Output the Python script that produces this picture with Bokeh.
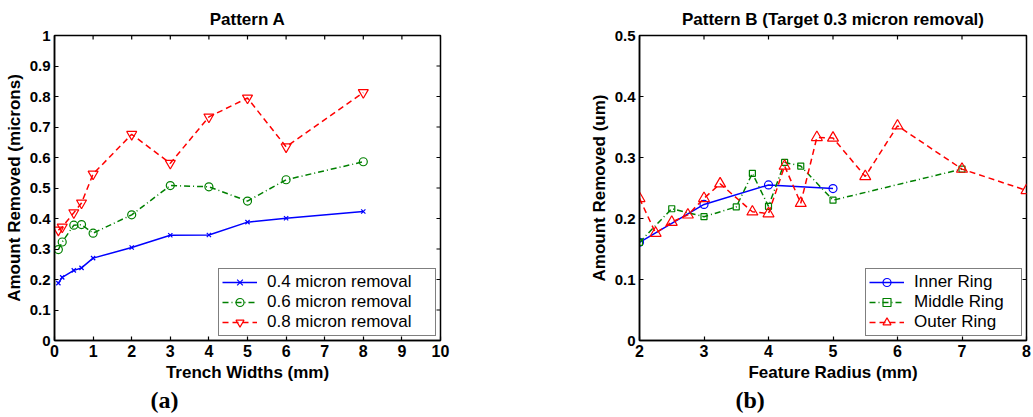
import math
from bokeh.plotting import figure
from bokeh.models import (Range1d, LinearAxis, FixedTicker, CustomJSTickFormatter,
                          Legend, LegendItem, Title)
from bokeh.layouts import row
from bokeh.embed import file_html
from bokeh.resources import INLINE

# ---------------- data ----------------
a_x = [0.1, 0.2, 0.5, 0.7, 1, 2, 3, 4, 5, 6, 8]
a_04 = [0.188, 0.207, 0.230, 0.238, 0.270, 0.305, 0.345, 0.346, 0.388, 0.401, 0.423]
a_06 = [0.298, 0.323, 0.378, 0.380, 0.352, 0.412, 0.508, 0.504, 0.457, 0.527, 0.586]
a_08 = [0.362, 0.372, 0.419, 0.451, 0.546, 0.676, 0.581, 0.733, 0.795, 0.635, 0.813]
a_labels = ["0.4 micron removal", "0.6 micron removal", "0.8 micron removal"]
a_xticks = [0, 1, 2, 3, 4, 5, 6, 7, 8, 9, 10]
a_yticks = [0, 0.1, 0.2, 0.3, 0.4, 0.5, 0.6, 0.7, 0.8, 0.9, 1.0]

b_inner_x = [2, 3, 4, 5]
b_inner = [0.161, 0.223, 0.255, 0.249]
b_mid_x = [2, 2.5, 3, 3.5, 3.75, 4, 4.25, 4.5, 5, 7]
b_mid = [0.161, 0.216, 0.203, 0.219, 0.274, 0.220, 0.292, 0.286, 0.230, 0.281]
b_out_x = [2, 2.25, 2.5, 2.75, 3, 3.25, 3.75, 4, 4.25, 4.5, 4.75, 5, 5.5, 6, 7, 8]
b_out = [0.233, 0.176, 0.194, 0.206, 0.233, 0.257, 0.211, 0.208, 0.286, 0.225,
         0.333, 0.332, 0.269, 0.352, 0.281, 0.246]
b_labels = ["Inner Ring", "Middle Ring", "Outer Ring"]
b_xticks = [2, 3, 4, 5, 6, 7, 8]
b_yticks = [0, 0.1, 0.2, 0.3, 0.4, 0.5]

BLUE, GREEN, RED = "#0000ff", "#008000", "#ff0000"
SANS = "Liberation Sans"
FMT = "return Number(tick.toFixed(2)).toString();"


def make_fig(title, xr, yr, xticks, yticks, xlabel, ylabel, width, left_border, right_border,
             panel_label):
    p = figure(width=width, height=417, output_backend="svg", toolbar_location=None,
               x_range=Range1d(*xr), y_range=Range1d(*yr), x_axis_type=None, y_axis_type=None,
               min_border_left=left_border, min_border_right=right_border,
               min_border_top=35, min_border_bottom=77)
    p.xgrid.visible = False
    p.ygrid.visible = False
    p.outline_line_color = "black"
    p.outline_line_width = 1.5
    p.background_fill_color = "white"
    p.border_fill_color = "white"

    p.title.text = title
    p.title.align = "center"
    p.title.text_font = SANS
    p.title.text_font_size = "17px"
    p.title.text_font_style = "bold"
    p.title.text_color = "black"
    p.title.standoff = 14

    for loc, tk, lab in (("below", xticks, xlabel), ("left", yticks, ylabel)):
        ax = LinearAxis(ticker=FixedTicker(ticks=tk), formatter=CustomJSTickFormatter(code=FMT))
        ax.major_tick_in = 4
        ax.major_tick_out = 0
        ax.minor_tick_in = 0
        ax.minor_tick_out = 0
        ax.axis_line_color = "black"
        ax.axis_line_width = 1.5
        ax.major_tick_line_width = 1.2
        ax.major_label_text_font = SANS
        ax.major_label_text_font_style = "bold"
        ax.major_label_text_font_size = "16px" if loc == "below" else "15px"
        ax.major_label_text_color = "black"
        ax.major_label_standoff = 4
        ax.axis_label = lab
        ax.axis_label_text_font = SANS
        ax.axis_label_text_font_style = "bold"
        ax.axis_label_text_font_size = "17px"
        ax.axis_label_text_color = "black"
        ax.axis_label_standoff = 3
        p.add_layout(ax, loc)

    # inward tick marks on the top and right edges (clipped to the frame)
    p.scatter(xticks, [yr[1]] * len(xticks), marker="dash", angle=math.pi / 2, size=8,
              line_color="black", line_width=1.2)
    p.scatter([xr[1]] * len(yticks), yticks, marker="dash", angle=0, size=8,
              line_color="black", line_width=1.2)

    t = Title(text=panel_label, align="left", offset=96, text_font="Liberation Serif",
              text_font_size="24px", text_font_style="bold", text_color="black", standoff=0)
    p.add_layout(t, "below")
    return p


def add_series(p, x, y, color, dash, marker, size):
    ln = p.line(x, y, line_color=color, line_width=1.5, line_dash=dash)
    sc = p.scatter(x, y, marker=marker, size=size, line_color=color, line_width=1.2,
                   fill_color=None)
    return [ln, sc]


def add_legend(p, items, label_width):
    lg = Legend(items=items, location="bottom_right")
    lg.margin = 4
    lg.padding = 3
    lg.spacing = 0
    lg.glyph_width = 35
    lg.glyph_height = 20
    lg.label_height = 20
    lg.label_width = label_width
    lg.label_standoff = 10
    lg.label_text_font = SANS
    lg.label_text_font_size = "17px"
    lg.label_text_color = "black"
    lg.border_line_color = "black"
    lg.border_line_width = 1.5
    lg.background_fill_color = "white"
    lg.background_fill_alpha = 1.0
    p.add_layout(lg)


# ---------------- Pattern A ----------------
pa = make_fig("Pattern A", (0, 10), (0, 1), a_xticks, a_yticks,
              "Trench Widths (mm)", "Amount Removed (microns)", 508, 54, 68, "(a)")
r1 = add_series(pa, a_x, a_04, BLUE, "solid", "x", 6)
r2 = add_series(pa, a_x, a_06, GREEN, "6 3 1 3", "circle", 8)
r3 = add_series(pa, a_x, a_08, RED, "6 4", "inverted_triangle", 10)
add_legend(pa, [LegendItem(label=a_labels[0], renderers=r1),
                LegendItem(label=a_labels[1], renderers=r2),
                LegendItem(label=a_labels[2], renderers=r3)], 165)

# ---------------- Pattern B ----------------
pb = make_fig("Pattern B (Target 0.3 micron removal)", (2, 8), (0, 0.5), b_xticks, b_yticks,
              "Feature Radius (mm)", "Amount Removed (um)", 525, 131, 7, "(b)")
s1 = add_series(pb, b_inner_x, b_inner, BLUE, "solid", "circle", 8)
s2 = add_series(pb, b_mid_x, b_mid, GREEN, "6 3 1 3", "square", 6)
s3 = add_series(pb, b_out_x, b_out, RED, "6 4", "triangle", 11)
add_legend(pb, [LegendItem(label=b_labels[0], renderers=s1),
                LegendItem(label=b_labels[1], renderers=s2),
                LegendItem(label=b_labels[2], renderers=s3)], 104)

layout = row(pa, pb)
open("out.html", "w").write(file_html(layout, INLINE))
